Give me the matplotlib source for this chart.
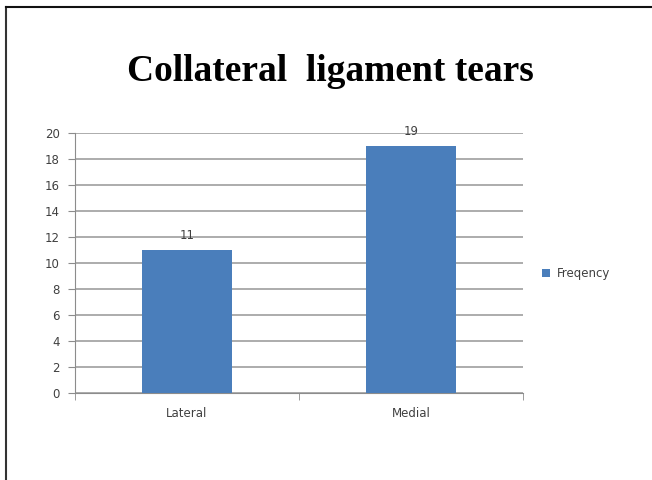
import matplotlib.pyplot as plt
from matplotlib.lines import Line2D

categories = ['Lateral', 'Medial']
values = [11, 19]
series_name = 'Freqency'
yticks = [0, 2, 4, 6, 8, 10, 12, 14, 16, 18, 20]

fig = plt.figure(figsize=(6.52, 4.8), dpi=100)
ax = fig.add_axes([0.115, 0.181, 0.687, 0.542])

x = range(len(categories))
bars = ax.bar(x, values, width=0.4, color='#4a7ebb', label=series_name, zorder=3)

ax.set_xlim(-0.5, 1.5)
ax.set_ylim(0, 20)
ax.set_yticks(yticks)
ax.set_xticks(list(x))
ax.set_xticklabels(categories)
ax.set_xticks([-0.5, 0.5, 1.5], minor=True)
ax.yaxis.grid(True, color='#a6a6a6', linewidth=1.3, zorder=0)
ax.set_axisbelow(True)

for side in ['top', 'right']:
    ax.spines[side].set_visible(False)
ax.spines['left'].set_color('#8c8c8c')
ax.spines['bottom'].set_color('#8c8c8c')
ax.tick_params(axis='y', length=5, color='#8c8c8c', labelsize=8.5, labelcolor='#404040', pad=6)
ax.tick_params(axis='x', which='major', length=0, labelsize=8.5, labelcolor='#404040', pad=10)
ax.tick_params(axis='x', which='minor', length=5, color='#8c8c8c')

for b, v in zip(bars, values):
    ax.text(b.get_x() + b.get_width() / 2, v + 0.6, str(v), ha='center', va='bottom',
            fontsize=8.5, color='#404040')

fig.text(0.506, 0.852, 'Collateral  ligament tears', ha='center', va='center',
         fontsize=27, fontweight='bold', family='Liberation Serif')

ax.legend(loc='center left', bbox_to_anchor=(1.02, 0.46), frameon=False, fontsize=8.5,
          handlelength=0.6, handleheight=0.6, handletextpad=0.6, labelcolor='#404040')

# page border on the left and top
fig.add_artist(Line2D([0.009, 0.009], [0.0, 0.986], color='#333333', linewidth=1.5))
fig.add_artist(Line2D([0.009, 1.0], [0.986, 0.986], color='#111111', linewidth=1.5))

fig.savefig('out.png', dpi=100)
